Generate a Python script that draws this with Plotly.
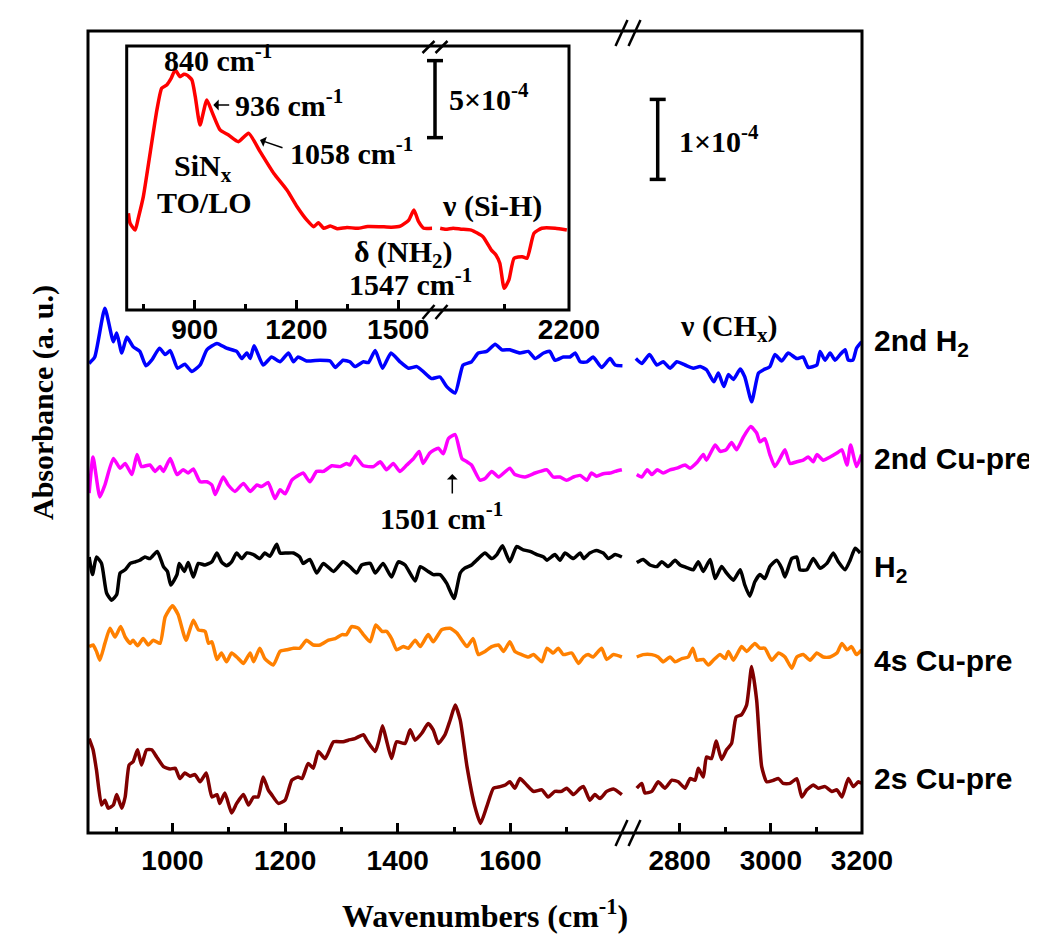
import plotly.graph_objects as go

# ---------------- data: (wavenumber cm-1, absorbance x1e-4 a.u., stacked) ----------------
H2_2ND_LOW = [(852,5.87),(862,5.95),(880,6.56),(895,6.14),(901,6.25),(910,6.00),(919,6.20),(930,6.08),
 (942,6.02),(953,5.84),(963,5.91),(977,6.06),(987,5.98),(996,6.03),(1009,5.81),(1022,5.86),(1034,5.77),
 (1049,5.85),(1061,6.04),(1079,6.12),(1096,6.06),(1114,6.02),(1123,5.93),(1132,6.00),(1138,5.93),
 (1145,6.09),(1161,5.85),(1176,5.95),(1191,5.89),(1206,6.00),(1215,5.89),(1223,5.95),(1238,5.90),
 (1262,5.91),(1280,5.90),(1289,5.82),(1303,5.91),(1315,5.89),(1324,5.83),(1339,5.89),(1348,5.88),
 (1360,6.03),(1373,5.81),(1388,6.00),(1404,5.89),(1419,5.81),(1434,5.83),(1445,5.77),(1460,5.68),
 (1475,5.70),(1487,5.58),(1502,5.50),(1516,5.85),(1531,5.89),(1543,6.00),(1558,6.02),(1573,6.11),
 (1585,6.04),(1599,6.04),(1617,6.00),(1632,6.02),(1644,5.93),(1659,6.00),(1670,6.02),(1679,5.91),
 (1694,5.95),(1706,5.95),(1715,6.00),(1724,5.89),(1736,5.89),(1747,5.95),(1762,5.82),(1777,5.93),
 (1786,5.85),(1799,5.84)]
H2_2ND_HIGH = [(2704,5.93),(2717,5.87),(2734,5.98),(2750,5.85),(2764,5.89),(2779,5.81),(2794,5.89),
 (2812,5.85),(2830,5.81),(2845,5.83),(2859,5.79),(2875,5.64),(2885,5.75),(2897,5.58),(2907,5.73),
 (2918,5.67),(2933,5.80),(2943,5.70),(2958,5.39),(2973,5.75),(2984,5.79),(2998,5.83),(3009,5.98),
 (3024,5.90),(3038,6.00),(3057,5.93),(3071,5.95),(3082,5.82),(3101,5.85),(3108,6.02),(3119,5.91),
 (3130,6.00),(3141,5.91),(3152,5.98),(3163,6.04),(3170,5.91),(3180,5.91),(3188,6.06),(3199,6.14)]

CU_2ND_LOW = [(852,4.25),(859,4.70),(871,4.20),(880,4.35),(895,4.68),(907,4.56),(916,4.62),(928,4.48),
 (937,4.73),(945,4.58),(960,4.60),(969,4.52),(978,4.58),(984,4.52),(996,4.68),(1008,4.48),(1019,4.54),
 (1028,4.50),(1037,4.55),(1049,4.39),(1061,4.39),(1070,4.35),(1076,4.23),(1090,4.45),(1099,4.35),
 (1111,4.27),(1126,4.37),(1138,4.27),(1150,4.35),(1158,4.33),(1170,4.38),(1182,4.18),(1191,4.29),
 (1200,4.24),(1212,4.41),(1226,4.48),(1232,4.50),(1244,4.39),(1256,4.52),(1268,4.52),(1283,4.59),
 (1298,4.58),(1309,4.62),(1315,4.60),(1324,4.71),(1339,4.59),(1357,4.58),(1369,4.64),(1380,4.54),
 (1392,4.62),(1404,4.52),(1416,4.60),(1428,4.68),(1438,4.77),(1445,4.62),(1457,4.75),(1472,4.81),
 (1481,4.74),(1490,4.93),(1502,4.98),(1514,4.68),(1523,4.64),(1531,4.60),(1546,4.41),(1555,4.43),
 (1567,4.52),(1579,4.45),(1599,4.56),(1608,4.48),(1626,4.45),(1644,4.50),(1653,4.52),(1665,4.54),
 (1676,4.45),(1688,4.45),(1700,4.41),(1712,4.45),(1724,4.47),(1736,4.41),(1744,4.50),(1753,4.46),
 (1765,4.49),(1777,4.50),(1786,4.52),(1798,4.54)]
CU_2ND_HIGH = [(2706,4.48),(2717,4.45),(2729,4.54),(2739,4.48),(2751,4.54),(2764,4.50),(2779,4.54),
 (2794,4.56),(2812,4.60),(2823,4.56),(2838,4.63),(2852,4.73),(2859,4.66),(2878,4.85),(2889,4.77),
 (2902,4.79),(2914,4.88),(2925,4.79),(2940,4.95),(2956,5.08),(2969,5.00),(2976,4.89),(2987,4.93),
 (2998,4.73),(3009,4.58),(3020,4.68),(3031,4.79),(3042,4.62),(3057,4.64),(3071,4.66),(3082,4.70),
 (3093,4.64),(3101,4.73),(3115,4.66),(3130,4.70),(3145,4.75),(3156,4.79),(3167,4.60),(3175,4.85),
 (3188,4.58),(3199,4.73)]

H2_LOW = [(852,3.45),(858,3.23),(865,3.45),(874,3.37),(883,3.00),(892,2.91),(901,2.98),(907,3.25),
 (916,3.29),(925,3.37),(934,3.39),(942,3.41),(951,3.45),(960,3.43),(973,3.52),(984,3.33),(991,3.27),
 (997,3.10),(1008,3.23),(1012,3.37),(1021,3.27),(1028,3.38),(1037,3.20),(1046,3.37),(1058,3.35),
 (1070,3.39),(1079,3.50),(1087,3.39),(1096,3.34),(1105,3.39),(1114,3.50),(1123,3.43),(1132,3.50),
 (1144,3.48),(1155,3.43),(1164,3.50),(1173,3.46),(1185,3.61),(1191,3.50),(1203,3.50),(1215,3.50),
 (1226,3.45),(1232,3.37),(1244,3.42),(1256,3.25),(1268,3.37),(1286,3.27),(1303,3.39),(1315,3.33),
 (1327,3.25),(1336,3.35),(1351,3.37),(1360,3.25),(1374,3.37),(1389,3.20),(1401,3.39),(1413,3.35),
 (1431,3.15),(1440,3.33),(1454,3.27),(1463,3.23),(1475,3.23),(1487,3.12),(1500,2.93),(1511,3.25),
 (1519,3.31),(1531,3.35),(1543,3.43),(1555,3.50),(1567,3.43),(1576,3.48),(1586,3.59),(1599,3.39),
 (1611,3.58),(1623,3.54),(1635,3.52),(1647,3.48),(1659,3.45),(1665,3.41),(1679,3.48),(1688,3.41),
 (1697,3.50),(1712,3.43),(1724,3.50),(1730,3.43),(1741,3.50),(1753,3.53),(1765,3.50),(1774,3.43),
 (1786,3.48),(1798,3.45)]
H2_HIGH = [(2706,3.38),(2720,3.42),(2735,3.35),(2750,3.33),(2761,3.39),(2775,3.33),(2790,3.41),
 (2801,3.35),(2819,3.31),(2830,3.29),(2841,3.39),(2852,3.27),(2867,3.42),(2878,3.18),(2892,3.33),
 (2903,3.25),(2918,3.16),(2933,3.29),(2943,3.10),(2954,2.96),(2965,3.14),(2976,3.23),(2987,3.18),
 (2998,3.33),(3013,3.41),(3024,3.31),(3031,3.20),(3046,3.43),(3057,3.45),(3064,3.29),(3079,3.29),
 (3093,3.43),(3108,3.31),(3123,3.37),(3137,3.50),(3148,3.39),(3163,3.29),(3174,3.41),(3185,3.56),
 (3196,3.50)]

CU_4S_LOW = [(852,2.33),(859,2.35),(865,2.27),(871,2.16),(880,2.37),(889,2.56),(898,2.45),(908,2.58),
 (916,2.45),(925,2.37),(930,2.41),(938,2.34),(948,2.43),(957,2.35),(966,2.41),(978,2.37),(987,2.70),
 (1000,2.84),(1010,2.73),(1024,2.41),(1037,2.66),(1046,2.54),(1058,2.52),(1064,2.37),(1070,2.39),
 (1079,2.17),(1087,2.25),(1096,2.14),(1105,2.25),(1117,2.18),(1126,2.12),(1138,2.25),(1144,2.14),
 (1155,2.31),(1164,2.18),(1179,2.10),(1191,2.27),(1203,2.29),(1215,2.31),(1226,2.31),(1238,2.41),
 (1250,2.35),(1262,2.35),(1277,2.41),(1289,2.43),(1301,2.48),(1309,2.48),(1318,2.58),(1330,2.56),
 (1339,2.48),(1351,2.39),(1361,2.60),(1372,2.52),(1380,2.52),(1389,2.43),(1398,2.29),(1410,2.33),
 (1419,2.31),(1431,2.41),(1440,2.33),(1454,2.48),(1463,2.39),(1478,2.54),(1493,2.56),(1505,2.50),
 (1514,2.41),(1523,2.33),(1534,2.43),(1543,2.23),(1555,2.27),(1567,2.33),(1579,2.35),(1588,2.27),
 (1599,2.39),(1608,2.27),(1620,2.23),(1632,2.20),(1641,2.23),(1656,2.14),(1665,2.31),(1676,2.25),
 (1685,2.31),(1694,2.23),(1709,2.25),(1721,2.12),(1730,2.20),(1738,2.23),(1747,2.20),(1762,2.31),
 (1771,2.17),(1783,2.23),(1798,2.20)]
CU_4S_HIGH = [(2706,2.20),(2720,2.23),(2739,2.23),(2753,2.20),(2764,2.14),(2779,2.20),(2790,2.14),
 (2805,2.18),(2819,2.20),(2829,2.31),(2838,2.16),(2852,2.17),(2863,2.10),(2874,2.16),(2889,2.23),
 (2900,2.18),(2907,2.27),(2918,2.16),(2936,2.33),(2947,2.27),(2965,2.37),(2976,2.31),(2987,2.31),
 (3002,2.16),(3017,2.25),(3031,2.20),(3046,2.06),(3057,2.20),(3071,2.23),(3086,2.16),(3101,2.25),
 (3115,2.20),(3130,2.20),(3145,2.25),(3156,2.37),(3167,2.29),(3177,2.33),(3188,2.23),(3199,2.29)]

CU_2S_LOW = [(852,1.18),(859,1.04),(865,0.79),(874,0.35),(880,0.41),(886,0.31),(895,0.35),(901,0.48),
 (910,0.31),(916,0.45),(923,0.85),(930,0.89),(938,1.04),(945,0.85),(954,1.04),(963,1.04),(972,0.95),
 (984,0.83),(996,0.80),(1005,0.81),(1013,0.68),(1022,0.75),(1031,0.71),(1040,0.73),(1049,0.64),
 (1060,0.75),(1070,0.45),(1079,0.48),(1084,0.37),(1093,0.50),(1105,0.25),(1114,0.37),(1126,0.48),
 (1135,0.35),(1144,0.45),(1152,0.45),(1161,0.70),(1170,0.54),(1176,0.48),(1188,0.37),(1200,0.41),
 (1212,0.66),(1223,0.70),(1230,0.68),(1241,0.87),(1250,0.81),(1259,1.02),(1271,0.93),(1286,1.14),
 (1303,1.14),(1312,1.16),(1324,1.18),(1339,1.23),(1345,1.16),(1360,1.02),(1366,1.14),(1373,1.34),
 (1380,1.16),(1389,0.93),(1398,1.14),(1413,1.12),(1422,1.29),(1431,1.16),(1443,1.25),(1454,1.37),
 (1463,1.29),(1472,1.12),(1484,1.23),(1493,1.41),(1502,1.60),(1511,1.41),(1523,0.83),(1537,0.33),
 (1547,0.12),(1558,0.33),(1570,0.56),(1582,0.58),(1591,0.60),(1599,0.64),(1608,0.56),(1617,0.68),
 (1629,0.60),(1641,0.52),(1656,0.54),(1667,0.45),(1679,0.52),(1691,0.52),(1700,0.56),(1712,0.48),
 (1724,0.56),(1730,0.58),(1741,0.41),(1750,0.48),(1759,0.43),(1771,0.52),(1783,0.55),(1798,0.48)]
CU_2S_HIGH = [(2706,0.56),(2717,0.62),(2724,0.50),(2739,0.52),(2753,0.64),(2768,0.56),(2783,0.66),
 (2797,0.64),(2812,0.56),(2823,0.68),(2834,0.66),(2841,0.81),(2852,0.70),(2859,0.95),(2870,0.93),
 (2880,1.15),(2892,0.92),(2903,1.04),(2914,1.12),(2924,1.45),(2936,1.48),(2947,1.60),(2958,2.08),
 (2969,1.66),(2980,0.83),(2991,0.64),(3006,0.66),(3017,0.68),(3027,0.62),(3042,0.62),(3057,0.68),
 (3068,0.45),(3079,0.54),(3093,0.60),(3104,0.56),(3119,0.58),(3134,0.52),(3145,0.54),(3156,0.45),
 (3170,0.68),(3181,0.58),(3192,0.64),(3199,0.62)]

# inset (SiNx film), absorbance x1e-4
INSET_LOW = [(705,6.28),(710,5.63),(725,5.19),(734,5.95),(749,7.36),(769,10.18),(789,12.99),(803,14.40),
 (818,14.61),(830,15.00),(843,15.58),(857,15.15),(868,15.30),(877,15.26),(892,14.94),(902,13.85),
 (916,12.01),(936,13.64),(951,12.88),(975,11.69),(1000,11.36),(1029,10.93),(1059,11.47),(1093,10.28),
 (1133,8.88),(1172,7.79),(1202,6.71),(1231,5.84),(1251,5.41),(1265,5.67),(1280,5.31),(1300,5.45),
 (1320,5.28),(1349,5.36),(1380,5.30),(1410,5.42),(1447,5.41),(1480,5.38),(1506,5.45),(1531,5.84),
 (1546,6.49),(1560,5.73),(1575,5.31),(1600,5.31)]
INSET_HIGH = [(1902,5.31),(1915,5.24),(1932,5.31),(1950,5.25),(1974,5.19),(2001,4.76),(2020,3.90),
 (2031,3.57),(2040,3.03),(2050,1.41),(2061,1.95),(2073,3.36),(2092,3.46),(2103,3.36),(2119,4.98),
 (2137,5.31),(2168,5.31),(2195,5.19)]

SERIES = [
    ("2nd H<sub>2</sub>", "#0000ff", H2_2ND_LOW, H2_2ND_HIGH),
    ("2nd Cu-pre", "#ff00ff", CU_2ND_LOW, CU_2ND_HIGH),
    ("H<sub>2</sub>", "#000000", H2_LOW, H2_HIGH),
    ("4s Cu-pre", "#ff8000", CU_4S_LOW, CU_4S_HIGH),
    ("2s Cu-pre", "#800000", CU_2S_LOW, CU_2S_HIGH),
]
LABEL_Y = [342, 458, 568, 660, 778]

LOW_TICKS, LOW_MINOR = [1000, 1200, 1400, 1600], [900, 1100, 1300, 1500, 1700]
HIGH_TICKS, HIGH_MINOR = [2800, 3000, 3200], [2900, 3100]
IN_LOW_TICKS, IN_LOW_MINOR = [900, 1200, 1500], [750, 1050, 1350]
IN_HIGH_TICKS, IN_HIGH_MINOR = [2200], [2050]

# ---------------- geometry (reference pixel space; page body has an 8 px margin) ----------------
PAGE_MARGIN = 8
W, H = 1037 - PAGE_MARGIN, 940 - PAGE_MARGIN
L, R, T, B = 88, 862, 31, 833
def fx(p): return (p - L) / (R - L)
def fy(p): return (B - p) / (B - T)

fig = go.Figure()
for name, color, low, high in SERIES:
    for seg, xa in ((low, "x"), (high, "x2")):
        fig.add_trace(go.Scatter(x=[p[0] for p in seg], y=[p[1] for p in seg], mode="lines",
                                 line=dict(color=color, width=3.5, shape="spline", smoothing=0.5),
                                 xaxis=xa, yaxis="y", showlegend=False, hoverinfo="skip"))
for seg, xa in ((INSET_LOW, "x3"), (INSET_HIGH, "x4")):
    fig.add_trace(go.Scatter(x=[p[0] for p in seg], y=[p[1] for p in seg], mode="lines",
                             line=dict(color="#ff0000", width=3.5, shape="spline", smoothing=0.5),
                             xaxis=xa, yaxis="y2", showlegend=False, hoverinfo="skip"))

SANS = "Liberation Sans, Arial, sans-serif"
SERIF = "Liberation Serif, Times New Roman, serif"
tickfont = dict(family=SANS, size=28, color="black")

def xax(domain, rng, tv, mv, anchor, standoff):
    return dict(domain=domain, range=rng, anchor=anchor, showgrid=False, zeroline=False,
                showline=False, ticks="inside", ticklen=10, tickwidth=2.5, tickcolor="black",
                tickmode="array", tickvals=tv, ticktext=["<b>%d</b>" % v for v in tv],
                tickfont=tickfont, ticklabelstandoff=standoff,
                minor=dict(tickmode="array", tickvals=mv, ticks="inside", ticklen=6,
                           tickwidth=2.5, tickcolor="black"))

fig.update_layout(
    width=W, height=H,
    margin=dict(l=L - PAGE_MARGIN, r=W - (R - PAGE_MARGIN), t=T - PAGE_MARGIN,
                b=H - (B - PAGE_MARGIN), autoexpand=False),
    paper_bgcolor="white", plot_bgcolor="white",
    xaxis=xax([0, fx(623)], [850, 1800], LOW_TICKS, LOW_MINOR, "y", 8),
    xaxis2=xax([fx(634), 1], [2700, 3200], HIGH_TICKS, HIGH_MINOR, "y", 8),
    yaxis=dict(domain=[0, 1], range=[0, 10.025], visible=False),
    xaxis3=xax([fx(126.7), fx(432.2)], [700, 1600], IN_LOW_TICKS, IN_LOW_MINOR, "y2", 0),
    xaxis4=xax([fx(439.3), fx(569)], [1900, 2200], IN_HIGH_TICKS, IN_HIGH_MINOR, "y2", 0),
    yaxis2=dict(domain=[fy(310), fy(46)], range=[0, 17.14], visible=False, anchor="x3"),
)

shapes = []
line = dict(color="black", width=3)
shapes.append(dict(type="rect", xref="paper", yref="paper", x0=0, x1=1, y0=0, y1=1, line=line))
shapes.append(dict(type="rect", xref="paper", yref="paper", x0=fx(126.7), x1=fx(569),
                   y0=fy(310), y1=fy(46), line=line))
# axis-break marks
for (cx, cy, h) in ((628, 33, 13), (628, 833, 13), (435, 47, 6), (435, 312, 7)):
    for dx in (-6.5, 6.5):
        shapes.append(dict(type="line", xref="paper", yref="paper",
                           x0=fx(cx + dx - 6), y0=fy(cy + h), x1=fx(cx + dx + 6), y1=fy(cy - h),
                           line=dict(color="black", width=2.5)))
# scale bars (drawn in data units of the y axes)
def scalebar(xc, y0, y1, yref):
    out = [dict(type="line", xref="paper", yref=yref, x0=fx(xc), x1=fx(xc), y0=y0, y1=y1,
                line=dict(color="black", width=3.5))]
    for yy in (y0, y1):
        out.append(dict(type="line", xref="paper", yref=yref, x0=fx(xc - 8), x1=fx(xc + 8),
                        y0=yy, y1=yy, line=dict(color="black", width=3.5)))
    return out
shapes += scalebar(657.7, 8.17, 9.17, "y")      # 1e-4
shapes += scalebar(435, 11.19, 16.19, "y2")     # 5e-4
fig.update_layout(shapes=shapes)

ann = []
def txt(text, x, y, size=30, family=SERIF, xanchor="left", angle=0):
    ann.append(dict(text="<b>" + text + "</b>", x=fx(x), y=fy(y), xref="paper", yref="paper",
                    xanchor=xanchor, yanchor="middle", showarrow=False, textangle=angle,
                    font=dict(family=family, size=size, color="black")))
def arrow(hx, hy, tx, ty):
    ann.append(dict(text="", x=fx(hx), y=fy(hy), xref="paper", yref="paper", showarrow=True,
                    ax=tx - hx, ay=ty - hy, arrowhead=1, arrowsize=1.2, arrowwidth=1.5,
                    arrowcolor="black", standoff=0, startstandoff=0))

txt("840 cm<sup>-1</sup>", 161.7, 58)
txt("936 cm<sup>-1</sup>", 232.7, 103)
txt("1058 cm<sup>-1</sup>", 288.3, 151)
txt("SiN<sub>x</sub>", 203.3, 168, xanchor="center")
txt("TO/LO", 203.7, 203, xanchor="center")
txt("ν (Si-H)", 440, 206)
txt("δ (NH<sub>2</sub>)", 351.7, 254)
txt("1547 cm<sup>-1</sup>", 346.7, 282)
txt("5×10<sup>-4</sup>", 446.7, 97)
txt("1×10<sup>-4</sup>", 676.7, 139)
txt("ν (CH<sub>x</sub>)", 678.3, 328)
txt("1501 cm<sup>-1</sup>", 378.3, 516)
arrow(213.3, 105, 230.7, 105)
arrow(260, 140, 284, 148.3)
arrow(452.3, 474, 452.3, 495)
for (name, color, low, high), yy in zip(SERIES, LABEL_Y):
    txt(name, 872, yy, size=30, family=SANS)
txt("Absorbance (a. u.)", 43, 403, angle=-90, xanchor="center")
txt("Wavenumbers (cm<sup>-1</sup>)", 485, 914, size=32, xanchor="center")
fig.update_layout(annotations=ann)

fig.write_html("out.html")
